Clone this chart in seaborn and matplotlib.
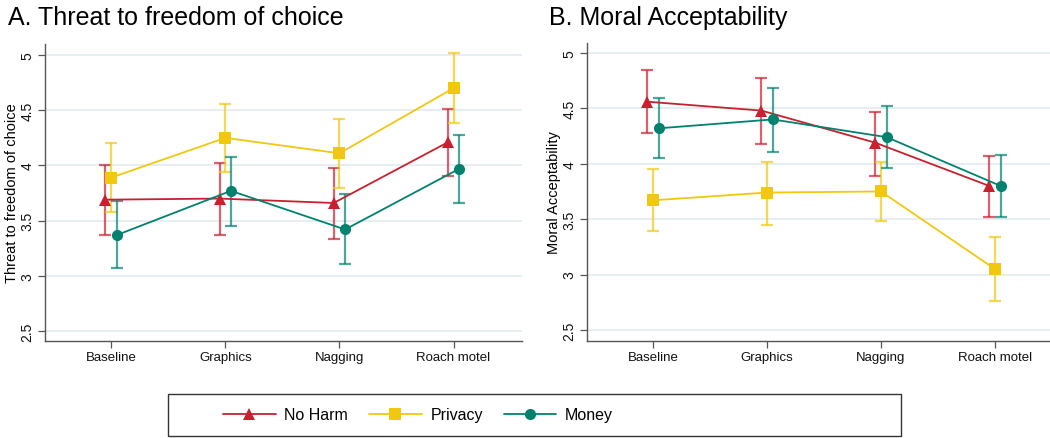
import numpy as np
import pandas as pd
import matplotlib
matplotlib.use("Agg")
import matplotlib.pyplot as plt
import seaborn as sns
from matplotlib.lines import Line2D
from matplotlib.patches import Rectangle

categories = ["Baseline", "Graphics", "Nagging", "Roach motel"]
series = ["No Harm", "Privacy", "Money"]

# Panel A: Threat to freedom of choice
threat_mean = {"No Harm": [3.69, 3.70, 3.66, 4.21],
               "Privacy": [3.89, 4.25, 4.11, 4.70],
               "Money":   [3.37, 3.77, 3.42, 3.97]}
threat_lo = {"No Harm": [3.37, 3.37, 3.33, 3.90],
             "Privacy": [3.58, 3.94, 3.80, 4.38],
             "Money":   [3.07, 3.45, 3.11, 3.66]}
threat_hi = {"No Harm": [4.00, 4.02, 3.98, 4.51],
             "Privacy": [4.20, 4.56, 4.42, 5.02],
             "Money":   [3.68, 4.08, 3.74, 4.28]}

# Panel B: Moral Acceptability
moral_mean = {"No Harm": [4.56, 4.48, 4.19, 3.80],
              "Privacy": [3.67, 3.74, 3.75, 3.05],
              "Money":   [4.32, 4.40, 4.24, 3.80]}
moral_lo = {"No Harm": [4.28, 4.18, 3.89, 3.52],
            "Privacy": [3.39, 3.45, 3.48, 2.76],
            "Money":   [4.05, 4.11, 3.96, 3.52]}
moral_hi = {"No Harm": [4.85, 4.77, 4.47, 4.07],
            "Privacy": [3.95, 4.02, 4.02, 3.34],
            "Money":   [4.59, 4.68, 4.52, 4.08]}

yticks = [2.5, 3, 3.5, 4, 4.5, 5]
ytick_labels = ["2.5", "3", "3.5", "4", "4.5", "5"]

colors = {"No Harm": "#c8202f", "Privacy": "#f2c80f", "Money": "#00826f"}
markers = {"No Harm": "^", "Privacy": "s", "Money": "o"}
offsets = {"No Harm": -0.05, "Privacy": 0.0, "Money": 0.05}

sns.set_theme(style="white")
plt.rcParams["font.family"] = ["Liberation Sans", "DejaVu Sans"]
plt.rcParams["text.color"] = "#000000"
plt.rcParams["axes.labelcolor"] = "#000000"

fig = plt.figure(figsize=(10.5, 4.39), dpi=100)
W, H = 1050.0, 439.0

def make_df(mean, lo, hi):
    rows = []
    for s in series:
        for i, c in enumerate(categories):
            rows.append({"series": s, "category": c, "idx": i,
                         "x": i + offsets[s], "mean": mean[s][i],
                         "lo": lo[s][i], "hi": hi[s][i]})
    return pd.DataFrame(rows)

def draw_panel(ax, df, ylabel, ylim, xlim):
    ax.set_axisbelow(True)
    for yv in yticks:
        ax.axhline(yv, color="#e6eef1", lw=1.4, zorder=0)
    for s in series:
        d = df[df["series"] == s]
        ax.errorbar(d["x"], d["mean"],
                    yerr=[d["mean"] - d["lo"], d["hi"] - d["mean"]],
                    fmt="none", ecolor=colors[s], alpha=0.7, elinewidth=1.6,
                    capsize=4, capthick=1.6, zorder=2)
    sns.lineplot(data=df, x="x", y="mean", hue="series", style="series",
                 palette=colors, markers=markers, dashes=False,
                 hue_order=series, style_order=series,
                 linewidth=1.3, markersize=8, markeredgewidth=0,
                 ax=ax, legend=False, zorder=3, sort=True)
    ax.set_xlim(*xlim)
    ax.set_ylim(*ylim)
    ax.set_xticks(range(len(categories)))
    ax.set_xticklabels(categories, fontsize=9.5)
    ax.set_yticks(yticks)
    ax.set_yticklabels(ytick_labels, fontsize=10, rotation=90, va="center")
    ax.set_xlabel("")
    ax.set_ylabel(ylabel, fontsize=10.5, labelpad=1)
    for sp in ["top", "right"]:
        ax.spines[sp].set_visible(False)
    for sp in ["left", "bottom"]:
        ax.spines[sp].set_color("#555555")
        ax.spines[sp].set_linewidth(1.0)
    ax.tick_params(axis="both", which="both", direction="out", length=5,
                   width=0.9, color="#555555", labelcolor="#111111", pad=2.5,
                   left=True, bottom=True)

# Left panel: x 45..522, y 45..342
axA = fig.add_axes([45 / W, (H - 342) / H, (522 - 45) / W, (342 - 45) / H])
draw_panel(axA, make_df(threat_mean, threat_lo, threat_hi),
           "Threat to freedom of choice", (2.41, 5.10), (-0.58, 3.6))

# Right panel: x 587..1061 (clipped at edge), y 44..342
axB = fig.add_axes([587 / W, (H - 342) / H, (1061 - 587) / W, (342 - 44) / H])
draw_panel(axB, make_df(moral_mean, moral_lo, moral_hi),
           "Moral Acceptability", (2.40, 5.09), (-0.58, 3.58))

fig.text(8 / W, 1 - 18 / H, "A. Threat to freedom of choice", fontsize=18,
         ha="left", va="center", color="#000000")
fig.text(549 / W, 1 - 18 / H, "B. Moral Acceptability", fontsize=18,
         ha="left", va="center", color="#000000")

# legend box (wide frame, content left-centred as in the reference)
fig.patches.append(Rectangle((168 / W, 1 - 437 / H), (901 - 168) / W, (437 - 395) / H,
                             transform=fig.transFigure, fill=False,
                             edgecolor="#333333", lw=1.0))
handles = [Line2D([0], [0], color=colors[s], marker=markers[s], lw=1.3,
                  markersize=8, markeredgewidth=0) for s in series]
leg = fig.legend(handles, series, loc="center",
                 bbox_to_anchor=(418 / W, 1 - 416 / H), ncol=3,
                 frameon=False, fontsize=11.5,
                 handlelength=3.3, columnspacing=1.3, handletextpad=0.55,
                 borderpad=0.3)
for t in leg.get_texts():
    t.set_color("#000000")

fig.savefig("out.png", dpi=100)
